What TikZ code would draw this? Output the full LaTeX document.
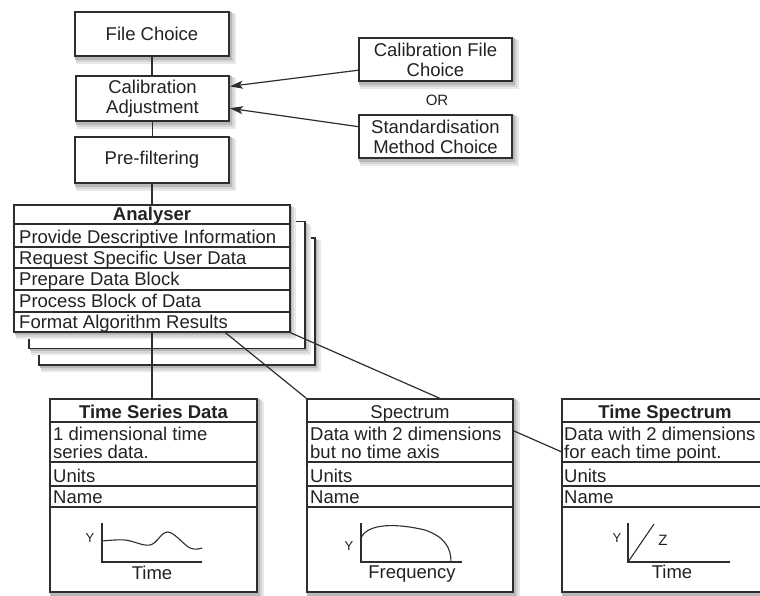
\documentclass[tikz,border=0pt]{standalone}
\usepackage{fontspec}
\setmainfont{Liberation Sans}
\usetikzlibrary{calc,arrows.meta}
\definecolor{ln}{HTML}{2e2e2e}
\definecolor{tx}{HTML}{222222}
\pgfdeclarelayer{back}
\pgfdeclarelayer{shd}
\pgfdeclarelayer{conn}
\pgfsetlayers{back,shd,conn,main}
\newcommand{\shadowrect}[2]{%
  \fill[black!9] ($(#1)+(2pt,-3pt)$) rectangle ($(#2)+(6pt,-7pt)$);
  \fill[black!17] ($(#1)+(2pt,-2pt)$) rectangle ($(#2)+(4pt,-5pt)$);
  \fill[black!28] ($(#1)+(1pt,-1pt)$) rectangle ($(#2)+(2pt,-3pt)$);}
\newcommand{\boxshadow}[1]{\shadowrect{#1.north west}{#1.south east}}
\begin{document}
\begin{tikzpicture}[x=1pt,y=-1pt,
  box/.style={draw=ln,line width=1.7pt,fill=white,inner sep=0pt,align=center,text=tx,font=\fontsize{18.5}{20}\selectfont},
  lbl/.style={inner sep=0pt,anchor=base west,text=tx,font=\fontsize{18.5}{20}\selectfont},
  ttl/.style={inner sep=0pt,anchor=base,text=tx,font=\fontsize{18.5}{20}\selectfont},
  bttl/.style={ttl,font=\fontsize{18.5}{20}\selectfont\bfseries},
  sep/.style={draw=ln,line width=1.1pt},
  conn/.style={draw=ln,line width=1.2pt},
  ax/.style={draw=ln,line width=1.3pt},
  small/.style={inner sep=0pt,text=tx,font=\fontsize{13}{14}\selectfont}]
\begin{pgfonlayer}{back}
\fill[white] (0,0) rectangle (760,596);
\coordinate (b3nw) at (39,238); \coordinate (b3se) at (315,365);
\coordinate (b2nw) at (29,222); \coordinate (b2se) at (305,348);
\coordinate (anw) at (14,205); \coordinate (ase) at (290,332);
\shadowrect{b3nw}{b3se}
\node[box,minimum width=276pt,minimum height=127pt] (b3) at (177,301.5) {};
\shadowrect{b2nw}{b2se}
\node[box,minimum width=276pt,minimum height=127pt] (b2) at (167,285) {};
\shadowrect{anw}{ase}
\end{pgfonlayer}
\useasboundingbox (0,0) rectangle (760,596);

% top chain
\node[box,minimum width=154pt,minimum height=44pt] (file) at (152,34) {File Choice};
\node[box,minimum width=153pt,minimum height=45pt] (cal) at (152.5,98.5) {Calibration\\Adjustment};
\node[box,minimum width=154pt,minimum height=46pt] (pre) at (152,160) {Pre-filtering};
\node[box,minimum width=153pt,minimum height=43pt] (cfc) at (435.5,59.5) {Calibration File\\Choice};
\node[box,minimum width=153pt,minimum height=43pt] (smc) at (435.5,136.5) {Standardisation\\Method Choice};
\node[small,font=\fontsize{15}{16}\selectfont] (or) at (437,100) {OR};

% analyser
\node[box,minimum width=276pt,minimum height=127pt] (anl) at (152,268.5) {};
\foreach \yy in {224,247,268,290,312} \draw[sep] (14,\yy) -- (290,\yy);
\node[bttl] (anlt) at (152,220) {Analyser};
\node[lbl] (r1) at (19,243) {Provide Descriptive Information};
\node[lbl] (r2) at (19,264) {Request Specific User Data};
\node[lbl] (r3) at (19,285) {Prepare Data Block};
\node[lbl] (r4) at (19,307) {Process Block of Data};
\node[lbl] (r5) at (19,328) {Format Algorithm Results};

% bottom boxes
\node[box,minimum width=207pt,minimum height=193pt] (tsd) at (153.5,495.5) {};
\node[box,minimum width=206pt,minimum height=193pt] (spec) at (410,495.5) {};
\node[box,minimum width=206pt,minimum height=193pt] (ts) at (665,495.5) {};
\foreach \xa/\xb in {50/257,307/513,562/768}
  \foreach \yy in {422,462,486,507} \draw[sep] (\xa,\yy) -- (\xb,\yy);

% time series data
\node[bttl] (tsdt) at (153.5,418) {Time Series Data};
\node[lbl] (tsd1) at (53,440) {1 dimensional time};
\node[lbl] (tsd2) at (53,458) {series data.};
\node[lbl] (tsdu) at (53,482) {Units};
\node[lbl] (tsdn) at (53,503) {Name};
\draw[ax] (102,523) -- (102,562) -- (202,562);
\draw[ax,line width=1.1pt] plot[smooth,tension=0.6] coordinates {(102,541) (125,540) (150,545) (168,532) (190,548) (202,548)};
\node[small] (tsdy) at (90,538) {Y};
\node[ttl] (tsdx) at (152,579) {Time};

% spectrum
\node[ttl] (spect) at (410,418) {Spectrum};
\node[lbl] (spec1) at (310,440) {Data with 2 dimensions};
\node[lbl] (spec2) at (310,458) {but no time axis};
\node[lbl] (specu) at (310,482) {Units};
\node[lbl] (specn) at (310,503) {Name};
\draw[ax] (361,523) -- (361,562) -- (462,562);
\draw[ax,line width=1.1pt] (361,538) .. controls (368,522) and (400,524) .. (425,530) .. controls (445,537) and (451,548) .. (451,562);
\node[small] (specy) at (349,546) {Y};
\node[ttl] (specx) at (412,578) {Frequency};

% time spectrum
\node[bttl] (tst) at (665,418) {Time Spectrum};
\node[lbl] (ts1) at (564,440) {Data with 2 dimensions};
\node[lbl] (ts2) at (564,458) {for each time point.};
\node[lbl] (tsu) at (564,482) {Units};
\node[lbl] (tsn) at (564,503) {Name};
\draw[ax] (628,523) -- (628,562) -- (730,562);
\draw[ax,line width=1.1pt] (628,562) -- (654,524);
\node[small] (tsy) at (617,538) {Y};
\node[small,font=\fontsize{15}{16}\selectfont] (tsz) at (663,540) {Z};
\node[ttl] (tsx) at (672,578) {Time};

% shadows of the other boxes
\begin{pgfonlayer}{shd}
\boxshadow{file}\boxshadow{cal}\boxshadow{pre}\boxshadow{cfc}\boxshadow{smc}
\boxshadow{tsd}\boxshadow{spec}\boxshadow{ts}
\end{pgfonlayer}

% connectors
\begin{pgfonlayer}{conn}
\draw[conn] (file.south) -- (file.south |- cal.north);
\draw[conn] (cal.south) -- (cal.south |- pre.north);
\draw[conn] (pre.south) -- (pre.south |- anl.north);
\draw[conn] (anl.south) -- (anl.south |- tsd.north);
\draw[conn,-{Stealth[length=13pt,width=8pt,inset=3pt]}] ($(cfc.south west)!0.26!(cfc.north west)$) -- ($(cal.north east)!0.24!(cal.south east)$);
\draw[conn,-{Stealth[length=13pt,width=8pt,inset=3pt]}] ($(smc.north west)!0.28!(smc.south west)$) -- ($(cal.north east)!0.71!(cal.south east)$);
\draw[conn] ($(anl.south west)!0.765!(anl.south east)$) -- (spec.north west);
\draw[conn] (anl.south east) -- ($(ts.north west)!0.275!(ts.south west)$);
\end{pgfonlayer}
\end{tikzpicture}
\end{document}
